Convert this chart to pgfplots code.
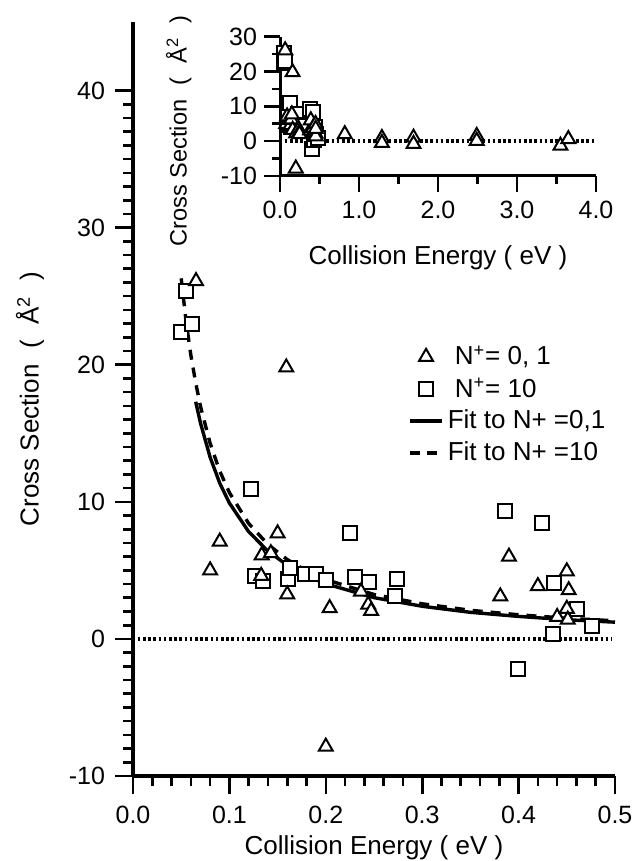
\documentclass[border=0pt]{standalone}
\usepackage{pgfplots}
\usepackage{pgfplotstable}
\pgfplotsset{compat=1.18}
\usepackage{fontspec}
\setmainfont{Liberation Sans}

\pgfplotstableread{
x y
0.0654 26.1
0.080 5.0
0.090 7.1
0.133 4.6
0.1335 6.1
0.143 6.25
0.150 7.7
0.159 19.8
0.160 3.25
0.200 -7.86
0.204 2.25
0.2365 3.45
0.244 2.5
0.247 2.05
0.381 3.1
0.390 6.0
0.420 3.85
0.440 1.6
0.450 4.93
0.450 2.2
0.451 1.4
0.452 3.55
}\triA

\pgfplotstableread{
x y
0.82 2.0
1.29 0.9
1.29 -0.5
1.69 1.0
1.69 -0.8
2.49 1.5
2.49 0.1
3.55 -1.3
3.65 0.6
}\triB

\pgfplotstableread{
x y
0.050 22.4
0.055 25.35
0.061 23.0
0.122 10.9
0.127 4.6
0.135 4.2
0.161 4.35
0.163 5.2
0.178 4.73
0.190 4.73
0.200 4.3
0.225 7.7
0.230 4.55
0.245 4.15
0.272 3.1
0.2735 4.38
0.386 9.34
0.399 -2.19
0.424 8.47
0.436 0.34
0.437 4.05
0.461 2.2
0.476 0.96
}\sqA

\pgfplotsset{
  tri/.style={only marks, mark=triangle*, mark size=4pt, mark options={solid, fill=white, draw=black, line width=1pt}},
  sqr/.style={only marks, mark=square*, mark size=3.5pt, mark options={solid, fill=white, draw=black, line width=1pt}},
}
\newcommand{\cslabel}{Cross Section\hspace{0.6em}(\hspace{0.6em}Å\textsuperscript{2}\hspace{0.6em})}

\begin{document}
\begin{tikzpicture}
\useasboundingbox (-66.5pt,-42.5pt) rectangle (251.5pt,388pt);
\begin{axis}[
  at={(0pt,0pt)}, anchor=south west,
  scale only axis, width=241pt, height=377pt,
  xmin=0, xmax=0.5, ymin=-10, ymax=45,
  axis lines=left, axis line style={-, line width=1.6pt},
  xtick={0,0.1,0.2,0.3,0.4,0.5}, xticklabels={0.0,0.1,0.2,0.3,0.4,0.5},
  ytick={-10,0,10,20,30,40}, yticklabels={-10,0,10,20,30,40},
  minor x tick num=4, minor y tick num=9,
  tick align=outside,
  major tick length=9pt, minor tick length=5pt,
  tick style={black, line width=1.3pt},
  ticklabel style={font=\fontsize{12.5}{14}\selectfont},
  xticklabel style={yshift=-2.5pt},
  yticklabel style={xshift=-1.5pt},
  xlabel={Collision Energy ( eV )},
  ylabel={\cslabel},
  label style={font=\fontsize{13}{15}\selectfont},
  xlabel style={at={(axis description cs:0.5,-0.0955)}, anchor=center},
  ylabel style={at={(axis description cs:-0.2137,0.5)}, anchor=center},
  legend style={draw=none, fill=none, at={(axis cs:0.279,22)}, anchor=north west,
    font=\fontsize{13}{15}\selectfont, row sep=1pt},
  legend cell align=left,
  legend image code/.code={\draw[mark repeat=2,mark phase=2,#1] plot coordinates {(0pt,0pt) (8pt,0pt) (16pt,0pt)};},
]
\addlegendimage{tri}
\addlegendentry{\hspace{3.5pt}N\textsuperscript{+}= 0, 1}
\addlegendimage{sqr}
\addlegendentry{\hspace{3.5pt}N\textsuperscript{+}= 10}
\addlegendimage{black, line width=1.7pt}
\addlegendentry{Fit to N+ =0,1}
\addlegendimage{black, line width=1.7pt, dash pattern=on 5pt off 3.5pt}
\addlegendentry{Fit to N+ =10}

\addplot[black, line width=1.8pt, dash pattern=on 1.3pt off 1.3pt, forget plot] coordinates {(0.005,0) (0.497,0)};
\addplot[black, line width=1.7pt, dash pattern=on 5pt off 4pt, forget plot] coordinates {
(0.05,26.3) (0.055,23.2) (0.06,20.7) (0.065,18.7) (0.07,16.96) (0.08,14.27) (0.09,12.24)
(0.10,10.67) (0.12,8.42) (0.14,6.89) (0.16,5.79) (0.18,4.97) (0.20,4.33) (0.25,3.24)
(0.30,2.56) (0.35,2.09) (0.40,1.76) (0.45,1.51) (0.50,1.32)};
\addplot[black, line width=1.7pt, forget plot] coordinates {
(0.065,17.3) (0.07,15.75) (0.08,13.25) (0.09,11.36) (0.10,9.91) (0.12,7.82) (0.14,6.40)
(0.16,5.38) (0.18,4.61) (0.20,4.02) (0.25,3.01) (0.30,2.38) (0.35,1.94) (0.40,1.64)
(0.45,1.40) (0.50,1.22)};
\addplot[sqr, forget plot] table {\sqA};
\addplot[tri, forget plot] table {\triA};
\end{axis}

\begin{axis}[
  at={(73.5pt,300pt)}, anchor=south west,
  scale only axis, width=158pt, height=69.65pt,
  xmin=0, xmax=4, ymin=-10, ymax=30,
  axis lines=left, axis line style={-, line width=1.5pt},
  xtick={0,1,2,3,4}, xticklabels={0.0,1.0,2.0,3.0,4.0},
  ytick={-10,0,10,20,30}, yticklabels={-10,0,10,20,30},
  minor x tick num=1, minor y tick num=1,
  tick align=outside,
  major tick length=8pt, minor tick length=4pt,
  tick style={black, line width=1.3pt},
  ticklabel style={font=\fontsize{12.5}{14}\selectfont},
  xticklabel style={yshift=-1pt},
  xlabel={Collision Energy ( eV )},
  ylabel={\cslabel},
  xlabel style={font=\fontsize{13}{15}\selectfont, at={(axis description cs:0.5,-0.584)}, anchor=center},
  ylabel style={font=\fontsize{11.8}{13}\selectfont, at={(axis description cs:-0.32,0.323)}, anchor=center},
  clip=false,
]
\addplot[black, line width=1.8pt, dash pattern=on 1.3pt off 1.3pt] coordinates {(0.06,0) (4,0)};
\addplot[sqr] table {\sqA};
\addplot[tri] table {\triA};
\addplot[tri] table {\triB};
\end{axis}
\end{tikzpicture}
\end{document}
